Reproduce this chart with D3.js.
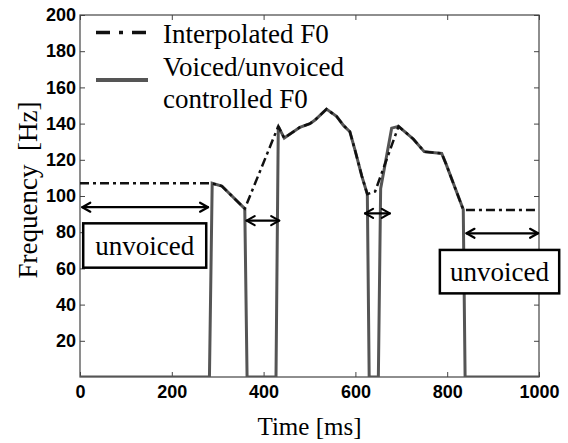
<!DOCTYPE html>
<html>
<head>
<meta charset="utf-8">
<script src="https://cdn.jsdelivr.net/npm/d3@7"></script>
<style>
  body { margin: 0; background: #fff; }
  svg { display: block; }
  .tick text { font-family: "Liberation Sans", Arial, sans-serif; font-weight: bold; font-size: 18px; fill: #000; }
  .serif { font-family: "Liberation Serif", "Times New Roman", serif; fill: #000; white-space: pre; }
</style>
</head>
<body>
<div id="root"></div>
<script>
// controlled F0 (0 = unvoiced)
const controlledTime = [0, 282, 288, 309, 359, 364, 427, 432, 445, 479, 501, 512, 537, 559, 574, 588, 599, 614, 626, 630, 650, 655, 679, 694, 726, 750, 788, 797, 835, 839, 1000];
const controlledF0 = [0, 0, 107, 105.5, 93, 0, 0, 138.5, 132, 138, 140, 142, 148, 144, 139, 135.5, 125.5, 111, 101, 0, 0, 104, 137.5, 138.5, 131.5, 124.5, 123.5, 118, 92.5, 0, 0];

// interpolated F0
const interpTime = [0, 287, 309, 359, 432, 445, 479, 501, 512, 537, 559, 574, 588, 599, 614, 626, 643, 694, 726, 750, 788, 797, 835, 839, 992];
const interpF0 = [107, 107, 105.5, 93, 138.5, 132, 138, 140, 142, 148, 144, 139, 135.5, 125.5, 111, 101, 102.5, 138.5, 131.5, 124.5, 123.5, 118, 92.5, 92.3, 92.3];

const xTicks = [0, 200, 400, 600, 800, 1000];
const yTicks = [20, 40, 60, 80, 100, 120, 140, 160, 180, 200];

// annotations: [t0, t1, hz]
const arrows = [[5, 279, 93.8], [363, 434, 86.4], [621, 675, 90.4], [842, 998, 79.4]];
// boxes: [t0, t1, hzTop, hzBottom]
const boxes = [[7, 275, 84.9, 60.4], [784, 1044, 70.2, 46.2]];
const boxLabel = "unvoiced";

const legendLabels = ["Interpolated F0", "Voiced/unvoiced", "controlled F0"];

const W = 568, H = 443;
const margin = { top: 15, right: 29, bottom: 66, left: 80 };

const x = d3.scaleLinear().domain([0, 1000]).range([margin.left, W - margin.right]);
const y = d3.scaleLinear().domain([0, 200]).range([H - margin.bottom, margin.top]);

const svg = d3.select("#root").append("svg")
  .attr("width", W)
  .attr("height", H);

svg.append("clipPath").attr("id", "plotclip")
  .append("rect")
  .attr("x", x(0) - 5).attr("y", y(200))
  .attr("width", x(1000) - x(0) + 10).attr("height", y(0) - y(200));

// axes, ticks inward like matlab
const axisColor = "#444";
const axes = svg.append("g").attr("class", "axes");
const fmt = d3.format("d");

axes.append("g")
  .attr("transform", `translate(0, ${y(0)})`)
  .call(d3.axisBottom(x).tickValues(xTicks).tickFormat(fmt).tickSizeInner(-5).tickSizeOuter(0).tickPadding(8));
axes.append("g")
  .attr("transform", `translate(${x(0)}, 0)`)
  .call(d3.axisLeft(y).tickValues(yTicks).tickFormat(fmt).tickSizeInner(-5).tickSizeOuter(0).tickPadding(4));
axes.append("g")
  .attr("transform", `translate(0, ${y(200)})`)
  .call(d3.axisTop(x).tickValues(xTicks).tickSizeInner(-5).tickSizeOuter(0).tickFormat(""));
axes.append("g")
  .attr("transform", `translate(${x(1000)}, 0)`)
  .call(d3.axisRight(y).tickValues(yTicks).tickSizeInner(-5).tickSizeOuter(0).tickFormat(""));

axes.selectAll(".domain").remove();
axes.selectAll(".tick line").attr("stroke", axisColor);

svg.append("rect")
  .attr("x", x(0)).attr("y", y(200))
  .attr("width", x(1000) - x(0)).attr("height", y(0) - y(200))
  .attr("fill", "none").attr("stroke", axisColor).attr("stroke-width", 1.2);

// data lines
const line = d3.line().x(d => x(d[0])).y(d => y(d[1]));
const plot = svg.append("g").attr("clip-path", "url(#plotclip)");

plot.append("path")
  .datum(d3.zip(controlledTime, controlledF0))
  .attr("d", line)
  .attr("fill", "none")
  .attr("stroke", "#555")
  .attr("stroke-width", 3);

plot.append("path")
  .datum(d3.zip(interpTime, interpF0))
  .attr("d", line)
  .attr("fill", "none")
  .attr("stroke", "#111")
  .attr("stroke-width", 2.5)
  .attr("stroke-dasharray", "9,4,3,4");

// double arrows
const arrowG = svg.append("g").attr("stroke", "#000").attr("fill", "none")
  .attr("stroke-width", 2.2).attr("stroke-linecap", "round").attr("stroke-linejoin", "round");
arrows.forEach(a => {
  const x0 = x(a[0]), x1 = x(a[1]), yy = y(a[2]);
  arrowG.append("line").attr("x1", x0).attr("x2", x1).attr("y1", yy).attr("y2", yy);
  arrowG.append("path").attr("d", `M${x0 + 8},${yy - 4.5}L${x0},${yy}L${x0 + 8},${yy + 4.5}`);
  arrowG.append("path").attr("d", `M${x1 - 8},${yy - 4.5}L${x1},${yy}L${x1 - 8},${yy + 4.5}`);
});

// unvoiced boxes
boxes.forEach(b => {
  const bx = x(b[0]), by = y(b[2]), bw = x(b[1]) - x(b[0]), bh = y(b[3]) - y(b[2]);
  svg.append("rect")
    .attr("x", bx).attr("y", by).attr("width", bw).attr("height", bh)
    .attr("fill", "#fff").attr("stroke", "#000").attr("stroke-width", 2.5);
  svg.append("text")
    .attr("class", "serif")
    .attr("x", bx + bw / 2).attr("y", by + bh / 2 + 9.5)
    .attr("text-anchor", "middle")
    .attr("font-size", 27)
    .text(boxLabel);
});

// legend
const legend = svg.append("g");
legend.append("line")
  .attr("x1", 96).attr("x2", 148).attr("y1", 32.5).attr("y2", 32.5)
  .attr("stroke", "#111").attr("stroke-width", 3.5).attr("stroke-dasharray", "14,9,4,9");
legend.append("line")
  .attr("x1", 96).attr("x2", 148).attr("y1", 80).attr("y2", 80)
  .attr("stroke", "#555").attr("stroke-width", 4);
legendLabels.forEach((t, i) => {
  legend.append("text")
    .attr("class", "serif")
    .attr("x", 163).attr("y", 43 + i * 32.5)
    .attr("font-size", 27)
    .text(t);
});

// axis titles
svg.append("text")
  .attr("class", "serif")
  .attr("x", (x(0) + x(1000)) / 2).attr("y", 435)
  .attr("text-anchor", "middle")
  .attr("font-size", 25)
  .text("Time [ms]");

svg.append("text")
  .attr("class", "serif")
  .attr("transform", `translate(37, ${190}) rotate(-90)`)
  .attr("text-anchor", "middle")
  .attr("font-size", 27)
  .text("Frequency  [Hz]");
</script>
</body>
</html>
